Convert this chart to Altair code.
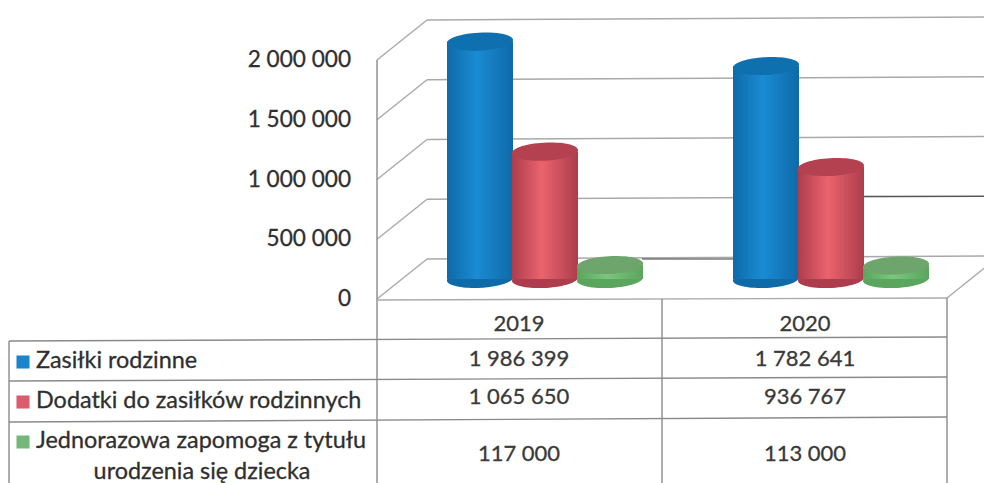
import altair as alt
import pandas as pd

YEARS = ["2019", "2020"]
SERIES = ["Zasiłki rodzinne", "Dodatki do zasiłków rodzinnych", "Jednorazowa zapomoga z tytułu urodzenia się dziecka"]
ZASILKI = [1986399, 1782641]
DODATKI = [1065650, 936767]
ZAPOMOGA = [117000, 113000]
TICKS = [0, 500000, 1000000, 1500000, 2000000]
TICK_LABELS = ["0", "500 000", "1 000 000", "1 500 000", "2 000 000"]

W, H = 976, 475
PX = 2000000 / 239            # data units per pixel
ZERO_Y = 291                  # chart pixel of the value 0
DOMAIN = [-(H - ZERO_Y) * PX, 2000000 + (ZERO_Y - 239) * PX]
BASE = 20 * PX                # floor offset of the cylinder bases
DEPTH = 40 * PX               # depth of the back wall
FONT = "Lato"
GRID = "#a9a9a9"
TABLE = "#8a8a8a"
DARK = "#3c3c3c"
INK = "#2f2f2f"

yscale = alt.Scale(domain=DOMAIN, range=[H, 0], nice=False, zero=False)
xscale = alt.Scale(type="point", domain=YEARS, range=[537, 823], padding=0)
oscale = alt.Scale(type="point", domain=SERIES, range=[-65, 65], padding=0)

rows = []
for i, y in enumerate(YEARS):
    for s, vals in zip(SERIES, [ZASILKI, DODATKI, ZAPOMOGA]):
        rows.append({"year": y, "series": s, "value": vals[i], "base": BASE, "top": vals[i] + BASE})
bars = pd.DataFrame(rows)
grid = pd.DataFrame({"tick": TICKS, "label": TICK_LABELS})
grid["back"] = grid["tick"] + DEPTH
grid["back_r"] = grid["back"] + 3 * PX


def seg(x1, y1, x2, y2, color=TABLE, w=1.4):
    return alt.Chart(alt.Data(values=[{}])).mark_rule(color=color, strokeWidth=w).encode(
        x=alt.value(x1 - 8), y=alt.value(y1 - 8), x2=alt.value(x2 - 8), y2=alt.value(y2 - 8))


ELLIPSE = "M-1,0.03 A1,0.27 -3 1 1 1,-0.03 A1,0.27 -3 1 1 -1,0.03 Z"


def grad(edge, mid):
    return alt.Gradient(gradient="linear", x1=0, x2=1, y1=0, y2=0,
                        stops=[alt.GradientStop(offset=0, color=edge),
                               alt.GradientStop(offset=0.45, color=mid),
                               alt.GradientStop(offset=1, color=edge)])


def cylinder(series, edge, mid, cap):
    base = alt.Chart(bars).transform_filter(alt.datum.series == series)
    enc = dict(x=alt.X("year:N", scale=xscale, axis=None),
               xOffset=alt.XOffset("series:N", scale=oscale))
    bottom = base.mark_point(shape=ELLIPSE, size=4356, filled=True, opacity=1, color=edge).encode(
        y=alt.Y("base:Q", scale=yscale, axis=None), **enc)
    body = base.mark_bar(width=66, color=grad(edge, mid)).encode(
        y=alt.Y("top:Q", scale=yscale, axis=None), y2="base:Q", **enc)
    top = base.mark_point(shape=ELLIPSE, size=4356, filled=True, opacity=1, color=cap).encode(
        y=alt.Y("top:Q", scale=yscale, axis=None), **enc)
    return [bottom, body, top]


side_lines = alt.Chart(grid).mark_rule(color=GRID, strokeWidth=1.4).encode(
    x=alt.value(369), x2=alt.value(419),
    y=alt.Y("tick:Q", scale=yscale, axis=None), y2="back:Q")

tick_text = alt.Chart(grid).mark_text(font=FONT, fontSize=22.6, color=INK, align="right",
                                      stroke=INK, strokeWidth=0.3).encode(
    x=alt.value(343), y=alt.Y("tick:Q", scale=yscale, axis=None), text="label:N")

back_lines = alt.Chart(grid).mark_rule(color=GRID, strokeWidth=1.4).encode(
    x=alt.value(419), x2=alt.value(976),
    y=alt.Y("back:Q", scale=yscale, axis=None), y2="back_r:Q")

dark1 = alt.Chart(grid[grid.tick == 0]).mark_rule(color=DARK, strokeWidth=1.2).encode(
    x=alt.value(634), x2=alt.value(725),
    y=alt.Y("back:Q", scale=yscale, axis=None), y2="back:Q")
dark2 = alt.Chart(grid[grid.tick == 500000]).mark_rule(color=DARK, strokeWidth=1.2).encode(
    x=alt.value(856), x2=alt.value(976),
    y=alt.Y("back_r:Q", scale=yscale, axis=None), y2="back_r:Q")

lines = [
    seg(377, 60, 377, 483), seg(377, 300, 947, 298, GRID), seg(947, 298, 992, 262, GRID),
    seg(947, 298, 947, 483), seg(662, 299, 662, 483),
    seg(9, 341, 947, 337), seg(9, 381, 947, 377), seg(9, 422, 947, 417), seg(9, 341, 9, 483),
]

table = []
row_text = [("year", 324, "#3a3a3a"), ("a", 359, "#3a3a3a"), ("b", 397, "#3a3a3a"), ("c", 454, "#3a3a3a")]
fmt = lambda v: f"{v:,}".replace(",", " ")
cells = pd.DataFrame({"year": YEARS, "yr": YEARS,
                      "a": [fmt(v) for v in ZASILKI],
                      "b": [fmt(v) for v in DODATKI],
                      "c": [fmt(v) for v in ZAPOMOGA]})
for field, py, col in row_text:
    table.append(alt.Chart(cells).mark_text(font=FONT, fontSize=22, color=col, xOffset=-26,
                                            stroke=col, strokeWidth=0.3).encode(
        x=alt.X("year:N", scale=xscale, axis=None),
        y=alt.value(py - 8),
        text=alt.Text("yr:N" if field == "year" else f"{field}:N")))

labels = [("Zasiłki rodzinne", 36, 361, "left"),
          ("Dodatki do zasiłków rodzinnych", 36, 401, "left"),
          ("Jednorazowa zapomoga z tytułu", 36, 441, "left"),
          ("urodzenia się dziecka", 202, 472, "center")]
for txt, px, py, al in labels:
    table.append(alt.Chart(alt.Data(values=[{"t": txt}])).mark_text(
        font=FONT, fontSize=23.4, color=INK, align=al, stroke=INK, strokeWidth=0.3).encode(
        x=alt.value(px - 8), y=alt.value(py - 8), text="t:N"))

swatches = []
for color, py in zip(["#1c84cc", "#d95b6c", "#73b87a"], [362, 402, 442]):
    swatches.append(alt.Chart(alt.Data(values=[{}])).mark_point(
        shape="square", size=170, filled=True, opacity=1, color=color).encode(
        x=alt.value(15), y=alt.value(py - 8)))

chart = alt.layer(
    side_lines, tick_text, back_lines, dark1, dark2, *lines,
    *cylinder(SERIES[0], "#0f6aa8", "#1a8bd3", "#0e70ae"),
    *cylinder(SERIES[1], "#ad3d4c", "#ea636e", "#b4414f"),
    *cylinder(SERIES[2], "#5aa65e", "#7cc67f", "#6ea56c"),
    *table, *swatches,
).properties(
    width=W, height=H, padding=0, background="white",
    autosize=alt.AutoSizeParams(type="none"),
).configure_view(stroke=None)

chart.save("out.html", embed_options={"renderer": "svg", "actions": False})
